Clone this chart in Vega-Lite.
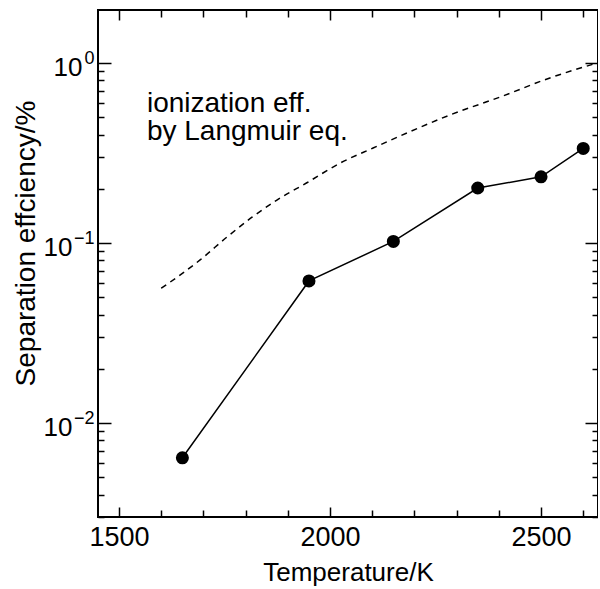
{
  "$schema": "https://vega.github.io/schema/vega-lite/v6.json",
  "width": 500,
  "height": 507,
  "autosize": "none",
  "padding": {"left": 98, "top": 10, "right": 0, "bottom": 72},
  "background": "white",
  "config": {
    "font": "Liberation Sans",
    "view": {"stroke": "black", "strokeWidth": 2},
    "axis": {
      "grid": false,
      "domain": false,
      "tickColor": "black",
      "tickWidth": 1.5,
      "labelColor": "black",
      "titleColor": "black",
      "labelFont": "Liberation Sans",
      "titleFont": "Liberation Sans",
      "titleFontWeight": "normal",
      "labelOverlap": false
    }
  },
  "datasets": {
    "meas": [
      {"T": 1650, "eff": 0.0064},
      {"T": 1950, "eff": 0.0615},
      {"T": 2150, "eff": 0.102},
      {"T": 2350, "eff": 0.202},
      {"T": 2500, "eff": 0.233},
      {"T": 2600, "eff": 0.335}
    ],
    "lang": [
      {"T": 1600, "eff": 0.056},
      {"T": 1692, "eff": 0.0805},
      {"T": 1756, "eff": 0.108},
      {"T": 1815, "eff": 0.139},
      {"T": 1874, "eff": 0.173},
      {"T": 1945, "eff": 0.216},
      {"T": 2024, "eff": 0.278},
      {"T": 2102, "eff": 0.337},
      {"T": 2182, "eff": 0.408},
      {"T": 2284, "eff": 0.514},
      {"T": 2403, "eff": 0.647},
      {"T": 2521, "eff": 0.826},
      {"T": 2633, "eff": 1.0}
    ],
    "notes": [
      {"T": 1566, "eff": 0.534, "text": "ionization eff."},
      {"T": 1566, "eff": 0.373, "text": "by Langmuir eq."}
    ]
  },
  "resolve": {"axis": {"x": "independent", "y": "independent"}},
  "layer": [
    {
      "data": {"name": "lang"},
      "mark": {"type": "line", "color": "black", "strokeWidth": 1.5, "strokeDash": [6, 5], "interpolate": "monotone"},
      "encoding": {
        "x": {
          "field": "T", "type": "quantitative",
          "scale": {"domain": [1450, 2635], "nice": false, "zero": false},
          "axis": {
            "orient": "bottom",
            "values": [1500, 2000, 2500],
            "format": "d",
            "ticks": false,
            "labelPadding": 7,
            "labelFontSize": 27,
            "titleFontSize": 26,
            "title": "Temperature/K",
            "titlePadding": 9
          }
        },
        "y": {
          "field": "eff", "type": "quantitative",
          "scale": {"type": "log", "domain": [0.003, 1.97], "nice": false},
          "axis": {
            "orient": "left",
            "values": [1],
            "labelExpr": "'10'",
            "ticks": false,
            "labelFontSize": 26,
            "labelOffset": 5,
            "labelPadding": 16,
            "titleFontSize": 28,
            "title": "Separation effciency/%",
            "titleX": -64,
            "titleY": 233,
            "titleBaseline": "alphabetic",
            "titleAlign": "center",
            "titleAngle": -90
          }
        }
      }
    },
    {
      "data": {"name": "meas"},
      "mark": {"type": "line", "color": "black", "strokeWidth": 1.5},
      "encoding": {
        "x": {
          "field": "T", "type": "quantitative",
          "axis": {
            "orient": "bottom",
            "values": [1500, 2000, 2500],
            "labels": false,
            "tickSize": 10,
            "offset": -10,
            "title": null
          }
        },
        "y": {
          "field": "eff", "type": "quantitative",
          "axis": {
            "orient": "left",
            "values": [0.01, 0.1],
            "labelExpr": "'10'",
            "ticks": false,
            "labelFontSize": 26,
            "labelOffset": 5,
            "labelPadding": 26,
            "title": null
          }
        }
      }
    },
    {
      "data": {"name": "meas"},
      "mark": {"type": "point", "filled": true, "color": "black", "opacity": 1, "size": 170},
      "encoding": {
        "x": {
          "field": "T", "type": "quantitative",
          "axis": {
            "orient": "bottom",
            "values": [1600, 1700, 1800, 1900, 2100, 2200, 2300, 2400, 2600],
            "labels": false,
            "tickSize": 7,
            "offset": -7,
            "title": null
          }
        },
        "y": {
          "field": "eff", "type": "quantitative",
          "axis": {
            "orient": "left",
            "values": [0.01, 0.1, 1],
            "labelExpr": "datum.value == 1 ? '0' : datum.value == 0.1 ? '−1' : '−2'",
            "ticks": false,
            "labelFontSize": 18,
            "labelOffset": -4,
            "labelPadding": 4,
            "title": null
          }
        }
      }
    },
    {
      "data": {"name": "notes"},
      "mark": {"type": "text", "align": "left", "baseline": "alphabetic", "fontSize": 28, "font": "Liberation Sans", "color": "black"},
      "encoding": {
        "x": {
          "field": "T", "type": "quantitative",
          "axis": {
            "orient": "top",
            "values": [1500, 2000, 2500],
            "labels": false,
            "tickSize": 10,
            "offset": -10,
            "title": null
          }
        },
        "y": {
          "field": "eff", "type": "quantitative",
          "axis": {
            "orient": "left",
            "values": [0.01, 0.1, 1],
            "labels": false,
            "tickSize": 13,
            "offset": -13,
            "title": null
          }
        },
        "text": {"field": "text"}
      }
    },
    {
      "data": {"name": "meas"},
      "mark": {"type": "point", "opacity": 0},
      "encoding": {
        "x": {
          "field": "T", "type": "quantitative",
          "axis": {
            "orient": "top",
            "values": [1600, 1700, 1800, 1900, 2100, 2200, 2300, 2400, 2600],
            "labels": false,
            "tickSize": 7,
            "offset": -7,
            "title": null
          }
        },
        "y": {
          "field": "eff", "type": "quantitative",
          "axis": {
            "orient": "left",
            "values": [0.003, 0.004, 0.005, 0.006, 0.007, 0.008, 0.009, 0.02, 0.03, 0.04, 0.05, 0.06, 0.07, 0.08, 0.09, 0.2, 0.3, 0.4, 0.5, 0.6, 0.7, 0.8, 0.9],
            "labels": false,
            "tickSize": 6,
            "offset": -6,
            "title": null
          }
        }
      }
    },
    {
      "data": {"name": "meas"},
      "mark": {"type": "point", "opacity": 0},
      "encoding": {
        "x": {"field": "T", "type": "quantitative", "axis": null},
        "y": {
          "field": "eff", "type": "quantitative",
          "axis": {
            "orient": "right",
            "values": [0.01, 0.1, 1],
            "labels": false,
            "tickSize": 13,
            "offset": -13,
            "title": null
          }
        }
      }
    },
    {
      "data": {"name": "meas"},
      "mark": {"type": "point", "opacity": 0},
      "encoding": {
        "x": {"field": "T", "type": "quantitative", "axis": null},
        "y": {
          "field": "eff", "type": "quantitative",
          "axis": {
            "orient": "right",
            "values": [0.003, 0.004, 0.005, 0.006, 0.007, 0.008, 0.009, 0.02, 0.03, 0.04, 0.05, 0.06, 0.07, 0.08, 0.09, 0.2, 0.3, 0.4, 0.5, 0.6, 0.7, 0.8, 0.9],
            "labels": false,
            "tickSize": 6,
            "offset": -6,
            "title": null
          }
        }
      }
    }
  ]
}
